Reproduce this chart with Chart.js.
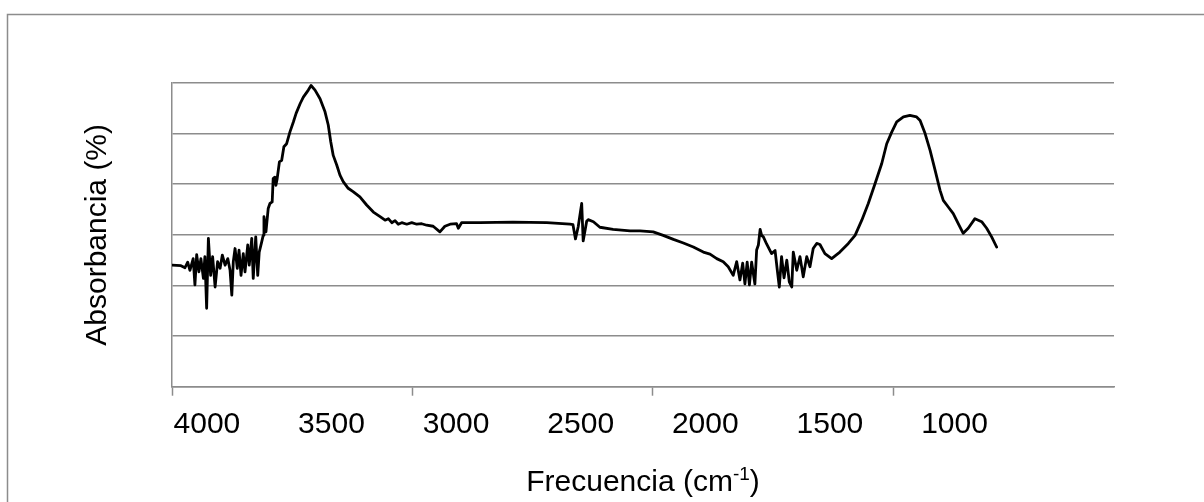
<!DOCTYPE html>
<html>
<head>
<meta charset="utf-8">
<script src="https://cdn.jsdelivr.net/npm/chart.js"></script>
<style>
  html, body { margin: 0; padding: 0; background: #fff; }
  #wrap { width: 1204px; height: 502px; }
</style>
</head>
<body>
<div id="wrap"><canvas id="myChart" width="1204" height="502"></canvas></div>
<script>
// FTIR spectrum (x in cm-1, y in % absorbance, axis unlabeled)
const wavenumber = [
  4140, 4104, 4088, 4077, 4068, 4055, 4048, 4041, 4032, 4024,
  4014, 4008, 4001, 3994, 3985, 3977, 3967, 3957, 3947, 3938,
  3927, 3916, 3907, 3900, 3894, 3887, 3878, 3871, 3863, 3854,
  3847, 3836, 3830, 3820, 3814, 3804, 3796, 3790, 3780, 3774,
  3771, 3763, 3754, 3747, 3738, 3734, 3727, 3723, 3718, 3709,
  3700, 3691, 3680, 3667, 3653, 3642, 3626, 3613, 3593, 3582,
  3566, 3546, 3526, 3513, 3503, 3493, 3479, 3466, 3453, 3433,
  3412, 3386, 3359, 3332, 3305, 3285, 3272, 3258, 3245, 3232,
  3218, 3198, 3178, 3158, 3138, 3118, 3092, 3065, 3045, 3024,
  2998, 2991, 2978, 2904, 2772, 2636, 2543, 2531, 2521, 2510,
  2496, 2490, 2476, 2470, 2449, 2423, 2370, 2302, 2262, 2209,
  2169, 2128, 2088, 2048, 2008, 1981, 1954, 1928, 1908, 1888,
  1874, 1861, 1850, 1841, 1832, 1823, 1814, 1801, 1794, 1787,
  1780, 1774, 1767, 1754, 1734, 1720, 1711, 1703, 1694, 1684,
  1673, 1663, 1653, 1647, 1633, 1620, 1607, 1593, 1580, 1567,
  1553, 1540, 1520, 1493, 1460, 1426, 1399, 1372, 1346, 1319,
  1292, 1272, 1252, 1232, 1205, 1179, 1152, 1138, 1118, 1098,
  1078, 1058, 1045, 1025, 1005, 985, 965, 945, 918, 891,
  871, 851, 831
];
const absorbance = [
  24.0, 23.9, 23.5, 24.6, 23.0, 25.3, 20.1, 26.1, 22.7, 25.3,
  21.4, 25.7, 15.5, 29.3, 22.0, 25.7, 19.7, 24.7, 23.4, 26.0,
  24.0, 25.3, 23.0, 18.1, 24.7, 27.3, 23.4, 27.0, 22.0, 26.3,
  22.7, 28.0, 24.0, 29.3, 21.4, 29.6, 22.0, 26.6, 28.6, 29.9,
  33.6, 30.6, 35.2, 36.2, 36.5, 41.1, 41.4, 39.8, 41.1, 44.4,
  44.7, 47.4, 48.0, 50.3, 52.3, 54.0, 55.9, 57.2, 58.6, 59.5,
  58.6, 56.9, 54.3, 51.7, 48.4, 45.7, 43.8, 41.8, 40.5, 39.2,
  38.5, 37.5, 35.9, 34.5, 33.6, 32.9, 33.2, 32.4, 32.8, 32.1,
  32.4, 32.1, 32.4, 32.1, 32.2, 31.9, 31.7, 30.6, 31.7, 32.1,
  32.2, 31.3, 32.4, 32.4, 32.5, 32.4, 32.1, 32.0, 29.2, 31.6,
  36.2, 28.8, 32.7, 33.0, 32.6, 31.5, 31.1, 30.8, 30.8, 30.6,
  29.9, 29.1, 28.4, 27.6, 26.6, 26.2, 25.3, 24.7, 23.7, 22.0,
  24.7, 21.1, 24.4, 20.3, 24.6, 20.1, 24.6, 20.3, 27.0, 28.0,
  31.1, 29.9, 29.6, 28.2, 26.3, 26.9, 23.0, 19.7, 25.7, 21.5,
  25.0, 20.7, 19.7, 26.6, 23.0, 25.7, 21.7, 25.7, 23.7, 27.3,
  28.3, 28.1, 26.3, 25.3, 26.6, 28.3, 29.9, 32.9, 36.2, 40.1,
  44.1, 48.0, 50.3, 52.3, 53.3, 53.6, 53.3, 52.6, 50.0, 46.7,
  42.8, 38.8, 36.8, 35.5, 34.2, 32.2, 30.3, 31.3, 33.2, 32.6,
  31.3, 29.6, 27.6
];

// axis labels and tick marks (Excel puts them at different places)
const xLabels = [4000, 3500, 3000, 2500, 2000, 1500, 1000];
const xTickMarks = [4140, 3175, 2210, 1245];
const yGridValues = [0, 10, 20, 30, 40, 50, 60];

const yTitle = 'Absorbancia (%)';
const xTitle = ['Frecuencia (cm', '-1', ')'];

const FONT = '"Liberation Sans", Arial, sans-serif';
const GRAY = '#8c8c8c';

const frameAndTitles = {
  id: 'frameAndTitles',
  beforeDraw(chart) {
    const c = chart.ctx;
    c.save();
    c.fillStyle = '#fff';
    c.fillRect(0, 0, chart.width, chart.height);
    c.strokeStyle = GRAY;
    c.lineWidth = 1.5;
    c.strokeRect(7.5, 14.5, chart.width + 20, chart.height + 20);
    c.restore();
  },
  afterDraw(chart) {
    const c = chart.ctx;
    const a = chart.chartArea;
    c.save();
    c.fillStyle = '#000';
    c.font = '30px ' + FONT;
    c.translate(106, (a.top + a.bottom) / 2);
    c.rotate(-Math.PI / 2);
    c.textAlign = 'center';
    c.textBaseline = 'alphabetic';
    c.fillText(yTitle, 0, 0);
    c.restore();

    c.save();
    c.fillStyle = '#000';
    c.textBaseline = 'alphabetic';
    c.textAlign = 'left';
    c.font = '30px ' + FONT;
    const w1 = c.measureText(xTitle[0]).width;
    const w3 = c.measureText(xTitle[2]).width;
    c.font = '19px ' + FONT;
    const w2 = c.measureText(xTitle[1]).width;
    let x = (a.left + a.right) / 2 - (w1 + w2 + w3) / 2;
    const base = 491;
    c.font = '30px ' + FONT;
    c.fillText(xTitle[0], x, base);
    x += w1;
    c.font = '19px ' + FONT;
    c.fillText(xTitle[1], x, base - 11);
    x += w2;
    c.font = '30px ' + FONT;
    c.fillText(xTitle[2], x, base);
    c.restore();
  }
};

const ctx = document.getElementById('myChart');
new Chart(ctx, {
  type: 'line',
  data: {
    datasets: [
      {
        data: wavenumber.map((w, i) => ({ x: w, y: absorbance[i] })),
        borderColor: '#000',
        borderWidth: 2.8,
        borderJoinStyle: 'round',
        borderCapStyle: 'round',
        pointRadius: 0,
        tension: 0,
        fill: false,
      },
    ],
  },
  options: {
    responsive: false,
    animation: false,
    devicePixelRatio: 1,
    layout: { padding: { left: 172, top: 83, right: 90, bottom: 0 } },
    scales: {
      x: {
        type: 'linear',
        reverse: true,
        min: 360,
        max: 4140,
        afterBuildTicks: (scale) => {
          scale.ticks = [...xTickMarks, ...xLabels]
            .sort((a, b) => b - a)
            .map((v) => ({ value: v }));
        },
        afterFit: (scale) => {
          scale.height = 502 - 386.7;
        },
        ticks: {
          autoSkip: false,
          maxRotation: 0,
          padding: 11,
          color: '#000',
          font: { family: FONT, size: 30 },
          callback: (v) => (xLabels.includes(v) ? String(v) : ''),
        },
        grid: {
          drawOnChartArea: false,
          drawTicks: true,
          tickLength: 9,
          tickWidth: 1.5,
          tickColor: (c) =>
            c.tick && xTickMarks.includes(c.tick.value) ? GRAY : 'rgba(0,0,0,0)',
        },
        border: { color: GRAY, width: 1.5 },
      },
      y: {
        min: 0,
        max: 60,
        afterBuildTicks: (scale) => {
          scale.ticks = yGridValues.map((v) => ({ value: v }));
        },
        afterFit: (scale) => {
          scale.width = 0;
        },
        ticks: { display: false },
        grid: { color: GRAY, lineWidth: 1.5, drawTicks: false },
        border: { color: GRAY, width: 1.5 },
      },
    },
    plugins: {
      legend: { display: false },
      tooltip: { enabled: false },
    },
  },
  plugins: [frameAndTitles],
});
</script>
</body>
</html>
